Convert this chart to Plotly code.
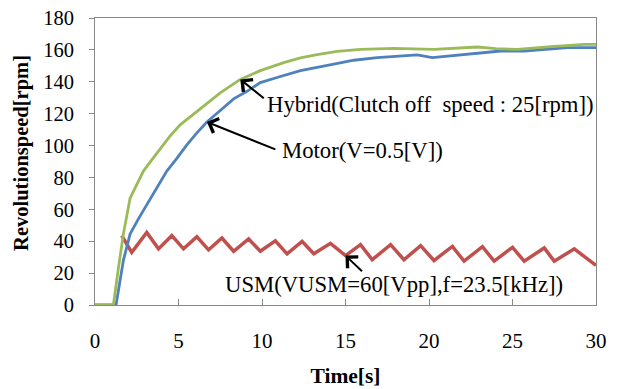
import plotly.graph_objects as go

# Hybrid (green)
hybrid_t = [0, 1.1, 1.4, 1.7, 2.1, 2.5, 2.9, 3.4, 3.9, 4.5, 5.1, 5.8, 6.5, 7.5, 8.7, 9.9,
            11.3, 12.3, 13.3, 14.5, 15.9, 17.9, 20.3, 21.5, 22.9, 24.0, 25.3, 27.3, 29.3, 30]
hybrid_v = [0, 0, 23, 44.5, 67, 76, 84, 91, 98, 106, 113, 119, 125, 133, 141.5, 147,
            152, 155, 157, 159, 160.3, 161, 160.3, 161, 161.8, 160.8, 160.3, 162, 163.4, 163.4]

# Motor (blue)
motor_t = [0, 1.26, 1.7, 2.1, 2.6, 3.1, 3.7, 4.3, 4.9, 5.5, 6.1, 6.7, 7.5, 8.3, 9.1, 9.9,
           11.0, 12.3, 14.3, 15.5, 16.9, 18.0, 19.3, 20.2, 21.0, 22.3, 23.3, 24.3, 25.7, 27.0, 28.3, 30]
motor_v = [0, 0, 28, 44.5, 54, 63, 74, 84, 92, 100.4, 108, 114.8, 122, 129.3, 134, 139.5,
           143, 147, 151, 153.5, 155.2, 156, 156.9, 155.2, 156, 157.3, 158.5, 159.3, 159.3, 160.5, 161.4, 161.4]

# USM (red)
usm_t = [1.6, 2.2, 3.1, 3.8, 4.6, 5.3, 6.1, 6.8, 7.6, 8.3, 9.2, 9.9, 10.8, 11.5, 12.4, 13.1,
         14.1, 15.0, 15.9, 16.6, 17.7, 18.5, 19.5, 20.3, 21.4, 22.1, 23.2, 23.9, 25.0, 25.7,
         26.9, 27.5, 28.7, 30]
usm_v = [43.5, 33, 45.5, 35.2, 43.5, 35.2, 42.8, 34.6, 42, 33.7, 41.4, 33.7, 40.3, 32.1, 39.9, 32.1,
         38.7, 31, 37.9, 28.4, 37.9, 28.4, 37.2, 27.9, 36.8, 27.5, 36.6, 27.5, 36.2, 27.5,
         35.8, 27.5, 35.2, 24.8]

x_ticks = [0, 5, 10, 15, 20, 25, 30]
y_ticks = [0, 20, 40, 60, 80, 100, 120, 140, 160, 180]

label_hybrid = "Hybrid(Clutch off\u00a0\u00a0speed\u00a0:\u00a025[rpm])"
label_motor = "Motor(V=0.5[V])"
label_usm = "USM(VUSM=60[Vpp],f=23.5[kHz])"
x_title = "<b>Time[s]</b>"
y_title = "<b>Revolutionspeed[rpm]</b>"

FONT = "Liberation Serif"

fig = go.Figure()
fig.add_trace(go.Scatter(x=usm_t, y=usm_v, mode="lines",
                         line=dict(color="#C0504D", width=3.5), showlegend=False))
fig.add_trace(go.Scatter(x=motor_t, y=motor_v, mode="lines",
                         line=dict(color="#4F81BD", width=2.8), showlegend=False))
fig.add_trace(go.Scatter(x=hybrid_t, y=hybrid_v, mode="lines",
                         line=dict(color="#9BBB59", width=2.8), showlegend=False))

arrow = dict(showarrow=True, arrowhead=4, arrowsize=1.5, arrowwidth=2, arrowcolor="black",
             text="", xref="x", yref="y")
fig.add_annotation(x=8.7, y=141.5, ax=25, ay=20, **arrow)
fig.add_annotation(x=6.7, y=114.8, ax=70, ay=28, **arrow)
fig.add_annotation(x=15.0, y=31, ax=18, ay=17, **arrow)

txt = dict(showarrow=False, xanchor="left", yanchor="middle", xref="x", yref="y",
           font=dict(family=FONT, size=22.7, color="black"))
fig.add_annotation(x=10.2, y=126, text=label_hybrid, **txt)
fig.add_annotation(x=11.1, y=97, text=label_motor, **txt)
fig.add_annotation(x=7.65, y=12.8, text=label_usm, **txt)

# y-axis title as rotated annotation
fig.add_annotation(x=-0.1457, y=0.53, xref="paper", yref="paper", text=y_title,
                   showarrow=False, textangle=-90, xanchor="center", yanchor="middle",
                   font=dict(family=FONT, size=20.5, color="black"))

fig.update_layout(
    width=609, height=381,
    margin=dict(l=87, r=21, t=10, b=84),
    paper_bgcolor="white", plot_bgcolor="white",
    font=dict(family=FONT, size=21, color="black"),
)
fig.update_xaxes(range=[0, 30], tickvals=x_ticks, showgrid=False, zeroline=False,
                 showline=True, linecolor="#888888", linewidth=1, mirror=True,
                 ticks="inside", ticklen=6, tickcolor="#888888", automargin=False,
                 tickfont=dict(family=FONT, size=21), ticklabelstandoff=17,
                 ticklabeloverflow="allow",
                 title=dict(text=x_title, font=dict(family=FONT, size=21.5), standoff=15))
fig.update_yaxes(range=[0, 180], tickvals=y_ticks, showgrid=False, zeroline=False,
                 showline=True, linecolor="#888888", linewidth=1, mirror=True,
                 ticks="outside", ticklen=5, tickcolor="#888888", automargin=False,
                 tickfont=dict(family=FONT, size=20.5), ticklabelstandoff=11,
                 ticklabeloverflow="allow")

fig.write_html("out.html")
